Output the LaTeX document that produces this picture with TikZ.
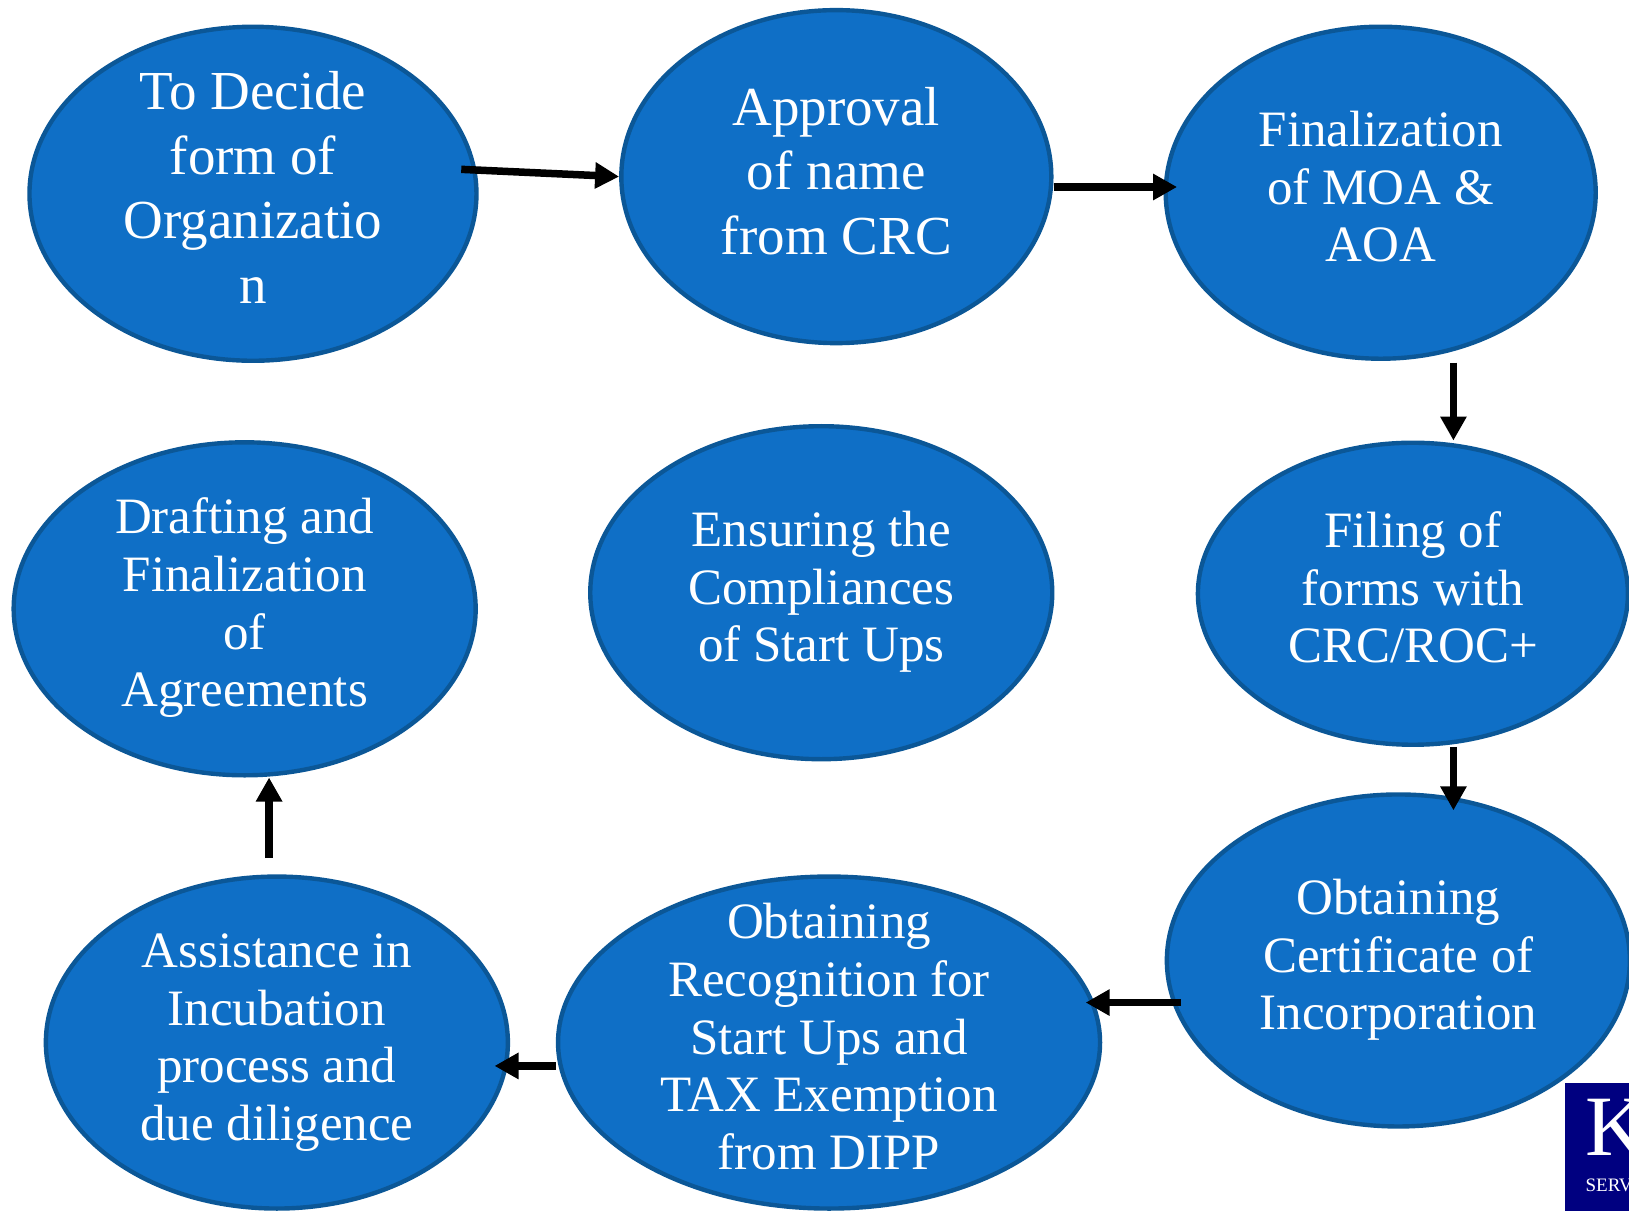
\documentclass[tikz,border=0pt]{standalone}
\usepackage{fontspec}
\setmainfont{Liberation Serif}
\usetikzlibrary{shapes.geometric,arrows.meta}
\definecolor{fillblue}{HTML}{0F6FC6}
\definecolor{edgeblue}{HTML}{0B5797}
\definecolor{logoblue}{HTML}{000080}
\tikzset{
  bubble/.style={ellipse,draw=edgeblue,fill=fillblue,line width=4.4pt,inner sep=-120pt,text=white,align=center},
  bigtext/.style={font=\fontsize{55}{64.5}\selectfont},
  smalltext/.style={font=\fontsize{51}{57.7}\selectfont},
  flow/.style={line width=7.5pt,black,-{Triangle[length=24pt,width=25pt]}},
}
\begin{document}
\begin{tikzpicture}[x=1.0389pt,y=-1.0389pt]
\useasboundingbox (0,0) rectangle (1568,1164.7);
\begin{scope}
\clip (0,0) rectangle (1568,1164.7);
\node[bubble,bigtext,minimum width=447pt,minimum height=334pt] (e1) at (243.5,186.5) {\strut To Decide\\form of\\Organizatio\\n\strut};
\node[bubble,bigtext,minimum width=430pt,minimum height=333pt] (e2) at (805,170) {\strut Approval\\of name\\from CRC\strut};
\node[bubble,smalltext,minimum width=430pt,minimum height=332pt] (e3) at (1329,185.5) {\strut Finalization\\of MOA \&\\AOA\strut};
\node[bubble,smalltext,minimum width=430pt,minimum height=302pt] (e4) at (1360,571.5) {\strut Filing of\\forms with\\CRC/ROC+\strut};
\node[bubble,smalltext,minimum width=463pt,minimum height=332pt] (e5) at (1346,924.5) {\strut Obtaining\\Certificate of\\Incorporation\strut};
\node[bubble,smalltext,minimum width=542pt,minimum height=332pt] (e6) at (798,1003.5) {\strut Obtaining\\Recognition for\\Start Ups and\\TAX Exemption\\from DIPP\strut};
\node[bubble,smalltext,minimum width=462pt,minimum height=332pt] (e7) at (266.5,1003.5) {\strut Assistance in\\Incubation\\process and\\due diligence\strut};
\node[bubble,smalltext,minimum width=462pt,minimum height=333pt] (e8) at (235.5,586) {\strut Drafting and\\Finalization\\of\\Agreements\strut};
\node[bubble,smalltext,minimum width=462pt,minimum height=333pt] (e9) at (790.5,570.5) {\strut Ensuring the\\Compliances\\of Start Ups\strut};
\node[fill=logoblue,minimum width=65pt,minimum height=128pt,inner sep=0pt,anchor=north west] (logo) at (1506,1042) {};
\node[text=white,font=\fontsize{86}{86}\selectfont,anchor=base west,inner sep=0pt] (logok) at (1526,1112) {K};
\node[text=white,font=\fontsize{19}{19}\selectfont,anchor=base west,inner sep=0pt] (logos) at (1526,1147) {SERV};
\end{scope}
\coordinate (a1s) at (444,163);
\coordinate (a2e) at (1133,180);
\coordinate (a3s) at (1399,349);
\coordinate (a4s) at (1399,719);
\coordinate (a4e) at (1399,780);
\coordinate (a5s) at (1137,965);
\coordinate (a5e) at (1045,965);
\coordinate (a6e) at (476,1026);
\coordinate (a7s) at (259,826);
\draw[flow] (a1s) -- (e2.west);
\draw[flow] (e2.east |- a2e) -- (a2e);
\draw[flow] (a3s) -- (a3s |- e4.north);
\draw[flow] (a4s) -- (a4e);
\draw[flow] (a5s) -- (a5e);
\draw[flow] (e6.west |- a6e) -- (a6e);
\draw[flow] (a7s) -- (a7s |- e8.south);
\end{tikzpicture}
\end{document}
